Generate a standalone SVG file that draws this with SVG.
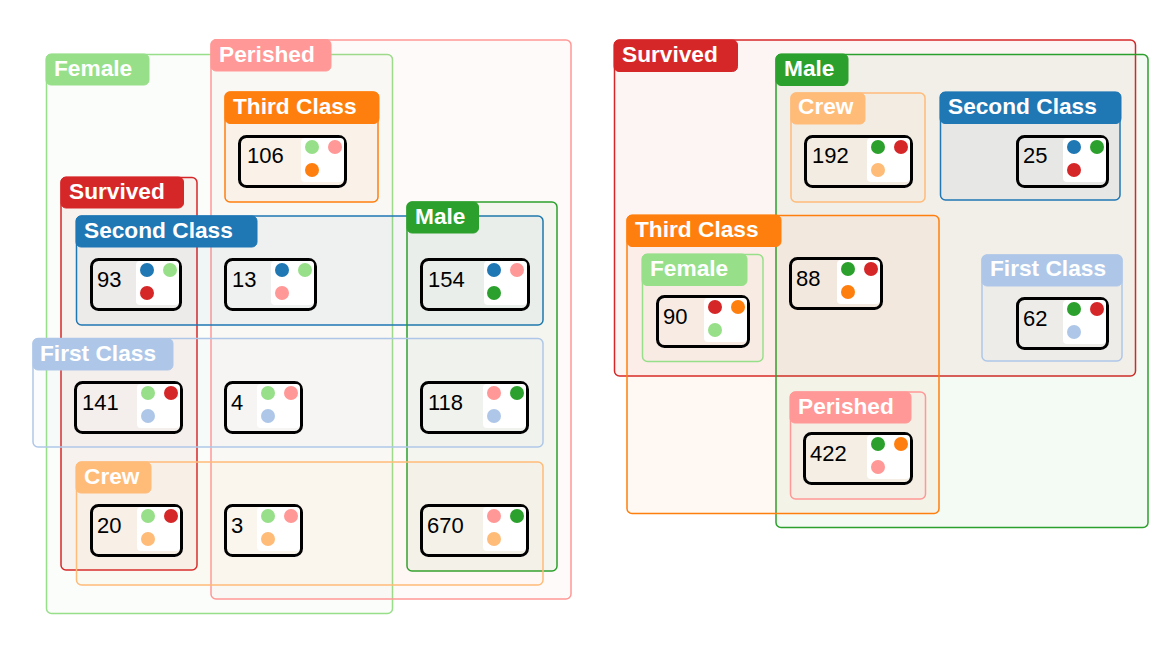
<svg xmlns="http://www.w3.org/2000/svg" width="1175" height="646" viewBox="0 0 1175 646">
<style>
.set{stroke-width:1.5;fill-opacity:0.05}
.tab{stroke:none}
.lbl{font-family:"Liberation Sans",Arial,sans-serif;font-weight:bold;font-size:22.7px;fill:#fff}
.nb{fill:none;stroke:#000;stroke-width:3}
.in{fill:#fff}
.num{font-family:"Liberation Sans",Arial,sans-serif;font-size:22px;fill:#000}
.sv{fill:#d62728;stroke:#d62728}
.pe{fill:#ff9896;stroke:#ff9896}
.fe{fill:#98df8a;stroke:#98df8a}
.ma{fill:#2ca02c;stroke:#2ca02c}
.c1{fill:#aec7e8;stroke:#aec7e8}
.c2{fill:#1f77b4;stroke:#1f77b4}
.c3{fill:#ff7f0e;stroke:#ff7f0e}
.cr{fill:#ffbb78;stroke:#ffbb78}
.d{stroke:none}
</style>
<rect width="1175" height="646" fill="#fff"/>
<!-- set regions -->
<g id="sets-left">
<rect class="set fe" x="46.5" y="54.5" width="346" height="559" rx="5"/>
<rect class="set pe" x="211" y="40" width="360" height="559" rx="5"/>
<rect class="set c3" x="225" y="92" width="153" height="110" rx="5"/>
<rect class="set sv" x="61" y="177.5" width="136" height="392.5" rx="5"/>
<rect class="set c2" x="76.5" y="216" width="466.5" height="109" rx="5"/>
<rect class="set ma" x="407" y="202" width="150" height="369" rx="5"/>
<rect class="set c1" x="33" y="338.5" width="510" height="108.5" rx="5"/>
<rect class="set cr" x="76.5" y="462" width="466.5" height="123" rx="5"/>
</g>
<g id="sets-right">
<rect class="set sv" x="614.5" y="40" width="521" height="336" rx="5"/>
<rect class="set ma" x="776" y="54.5" width="372" height="473" rx="5"/>
<rect class="set cr" x="791" y="93" width="134" height="109" rx="5"/>
<rect class="set c2" x="940.5" y="92.5" width="179.5" height="107.5" rx="5"/>
<rect class="set c3" x="627" y="215.5" width="312" height="298" rx="5"/>
<rect class="set fe" x="642.5" y="254.5" width="120.5" height="107" rx="5"/>
<rect class="set c1" x="982" y="255" width="140" height="106" rx="5"/>
<rect class="set pe" x="790.5" y="392" width="135" height="107" rx="5"/>
</g>
<!-- tabs -->
<g id="label-female-l"><rect class="tab fe" x="46" y="54" width="103" height="31" rx="5"/><text class="lbl" x="54" y="76">Female</text></g>
<g id="label-perished-l"><rect class="tab pe" x="211" y="39.5" width="120" height="31.5" rx="5"/><text class="lbl" x="219" y="61.5">Perished</text></g>
<g id="label-third-l"><rect class="tab c3" x="225" y="92" width="154" height="31.5" rx="5"/><text class="lbl" x="233" y="114">Third Class</text></g>
<g id="label-survived-l"><rect class="tab sv" x="61" y="177" width="122.5" height="31" rx="5"/><text class="lbl" x="69" y="199">Survived</text></g>
<g id="label-second-l"><rect class="tab c2" x="76" y="216" width="181" height="31" rx="5"/><text class="lbl" x="84" y="238">Second Class</text></g>
<g id="label-male-l"><rect class="tab ma" x="407" y="202" width="71.5" height="31" rx="5"/><text class="lbl" x="415" y="224">Male</text></g>
<g id="label-first-l"><rect class="tab c1" x="33" y="338.5" width="140" height="31.5" rx="5"/><text class="lbl" x="40" y="361">First Class</text></g>
<g id="label-crew-l"><rect class="tab cr" x="76" y="462" width="75" height="31" rx="5"/><text class="lbl" x="84" y="484">Crew</text></g>
<g id="label-survived-r"><rect class="tab sv" x="614" y="40" width="123.5" height="31.5" rx="5"/><text class="lbl" x="622" y="62">Survived</text></g>
<g id="label-male-r"><rect class="tab ma" x="776" y="54" width="72" height="31.5" rx="5"/><text class="lbl" x="784" y="76">Male</text></g>
<g id="label-crew-r"><rect class="tab cr" x="791" y="93" width="74" height="31" rx="5"/><text class="lbl" x="798" y="114">Crew</text></g>
<g id="label-second-r"><rect class="tab c2" x="940" y="92" width="181" height="31.5" rx="5"/><text class="lbl" x="948" y="114">Second Class</text></g>
<g id="label-third-r"><rect class="tab c3" x="627" y="215" width="154" height="31.5" rx="5"/><text class="lbl" x="635" y="237">Third Class</text></g>
<g id="label-female-r"><rect class="tab fe" x="642" y="254" width="105" height="31.5" rx="5"/><text class="lbl" x="650" y="276">Female</text></g>
<g id="label-first-r"><rect class="tab c1" x="982" y="255" width="140" height="31" rx="5"/><text class="lbl" x="990" y="276">First Class</text></g>
<g id="label-perished-r"><rect class="tab pe" x="790" y="392" width="121" height="31" rx="5"/><text class="lbl" x="798" y="414">Perished</text></g>
<!-- nodes -->
<g id="node-106"><rect class="nb" x="239.5" y="136.5" width="106" height="50" rx="7"/><rect class="in" x="301" y="138" width="43" height="44" rx="4"/><text class="num" x="247" y="163">106</text><circle class="d fe" cx="312" cy="147" r="7"/><circle class="d pe" cx="335" cy="147" r="7"/><circle class="d c3" cx="312" cy="170" r="7"/></g>
<g id="node-93"><rect class="nb" x="91.5" y="259.5" width="89" height="50" rx="7"/><rect class="in" x="136" y="261" width="43" height="44" rx="4"/><text class="num" x="97" y="287">93</text><circle class="d c2" cx="147" cy="270" r="7"/><circle class="d fe" cx="170" cy="270" r="7"/><circle class="d sv" cx="147" cy="293" r="7"/></g>
<g id="node-13"><rect class="nb" x="225.5" y="259.5" width="90" height="50" rx="7"/><rect class="in" x="271" y="261" width="43" height="44" rx="4"/><text class="num" x="232" y="287">13</text><circle class="d c2" cx="282" cy="270" r="7"/><circle class="d fe" cx="305" cy="270" r="7"/><circle class="d pe" cx="282" cy="293" r="7"/></g>
<g id="node-154"><rect class="nb" x="421.5" y="259.5" width="107" height="50" rx="7"/><rect class="in" x="484" y="261" width="43" height="44" rx="4"/><text class="num" x="428" y="287">154</text><circle class="d c2" cx="494" cy="270" r="7"/><circle class="d pe" cx="517" cy="270" r="7"/><circle class="d ma" cx="494" cy="293" r="7"/></g>
<g id="node-141"><rect class="nb" x="75.5" y="382.5" width="106" height="50" rx="7"/><rect class="in" x="137" y="384" width="43" height="44" rx="4"/><text class="num" x="82" y="410">141</text><circle class="d fe" cx="148" cy="393" r="7"/><circle class="d sv" cx="171" cy="393" r="7"/><circle class="d c1" cx="148" cy="416" r="7"/></g>
<g id="node-4"><rect class="nb" x="225.5" y="382.5" width="76" height="50" rx="7"/><rect class="in" x="257" y="384" width="43" height="44" rx="4"/><text class="num" x="231" y="410">4</text><circle class="d fe" cx="268" cy="393" r="7"/><circle class="d pe" cx="291" cy="393" r="7"/><circle class="d c1" cx="268" cy="416" r="7"/></g>
<g id="node-118"><rect class="nb" x="421.5" y="382.5" width="106" height="50" rx="7"/><rect class="in" x="483" y="384" width="43" height="44" rx="4"/><text class="num" x="428" y="410">118</text><circle class="d pe" cx="494" cy="393" r="7"/><circle class="d ma" cx="517" cy="393" r="7"/><circle class="d c1" cx="494" cy="416" r="7"/></g>
<g id="node-20"><rect class="nb" x="91.5" y="505.5" width="90" height="50" rx="7"/><rect class="in" x="137" y="507" width="43" height="44" rx="4"/><text class="num" x="97" y="533">20</text><circle class="d fe" cx="148" cy="516" r="7"/><circle class="d sv" cx="171" cy="516" r="7"/><circle class="d cr" cx="148" cy="539" r="7"/></g>
<g id="node-3"><rect class="nb" x="225.5" y="505.5" width="76" height="50" rx="7"/><rect class="in" x="257" y="507" width="43" height="44" rx="4"/><text class="num" x="231" y="533">3</text><circle class="d fe" cx="268" cy="516" r="7"/><circle class="d pe" cx="291" cy="516" r="7"/><circle class="d cr" cx="268" cy="539" r="7"/></g>
<g id="node-670"><rect class="nb" x="421.5" y="505.5" width="106" height="50" rx="7"/><rect class="in" x="483" y="507" width="43" height="44" rx="4"/><text class="num" x="427" y="533">670</text><circle class="d pe" cx="494" cy="516" r="7"/><circle class="d ma" cx="517" cy="516" r="7"/><circle class="d cr" cx="494" cy="539" r="7"/></g>
<g id="node-192"><rect class="nb" x="805.5" y="136.5" width="106" height="50" rx="7"/><rect class="in" x="867" y="138" width="43" height="44" rx="4"/><text class="num" x="812" y="163">192</text><circle class="d ma" cx="878" cy="147" r="7"/><circle class="d sv" cx="901" cy="147" r="7"/><circle class="d cr" cx="878" cy="170" r="7"/></g>
<g id="node-25"><rect class="nb" x="1017.5" y="136.5" width="90" height="50" rx="7"/><rect class="in" x="1063" y="138" width="43" height="44" rx="4"/><text class="num" x="1023" y="163">25</text><circle class="d c2" cx="1074" cy="147" r="7"/><circle class="d ma" cx="1097" cy="147" r="7"/><circle class="d sv" cx="1074" cy="170" r="7"/></g>
<g id="node-88"><rect class="nb" x="790.5" y="258.5" width="91" height="50" rx="7"/><rect class="in" x="837" y="260" width="43" height="44" rx="4"/><text class="num" x="796" y="286">88</text><circle class="d ma" cx="848" cy="269" r="7"/><circle class="d sv" cx="871" cy="269" r="7"/><circle class="d c3" cx="848" cy="292" r="7"/></g>
<g id="node-90"><rect class="nb" x="657.5" y="296.5" width="91" height="50" rx="7"/><rect class="in" x="704" y="298" width="43" height="44" rx="4"/><text class="num" x="663" y="324">90</text><circle class="d sv" cx="715" cy="307" r="7"/><circle class="d c3" cx="738" cy="307" r="7"/><circle class="d fe" cx="715" cy="330" r="7"/></g>
<g id="node-62"><rect class="nb" x="1017.5" y="298.5" width="90" height="50" rx="7"/><rect class="in" x="1063" y="300" width="43" height="44" rx="4"/><text class="num" x="1023" y="326">62</text><circle class="d ma" cx="1074" cy="309" r="7"/><circle class="d sv" cx="1097" cy="309" r="7"/><circle class="d c1" cx="1074" cy="332" r="7"/></g>
<g id="node-422"><rect class="nb" x="804.5" y="433.5" width="107" height="50" rx="7"/><rect class="in" x="867" y="435" width="43" height="44" rx="4"/><text class="num" x="810" y="461">422</text><circle class="d ma" cx="878" cy="444" r="7"/><circle class="d c3" cx="901" cy="444" r="7"/><circle class="d pe" cx="878" cy="467" r="7"/></g>
</svg>
